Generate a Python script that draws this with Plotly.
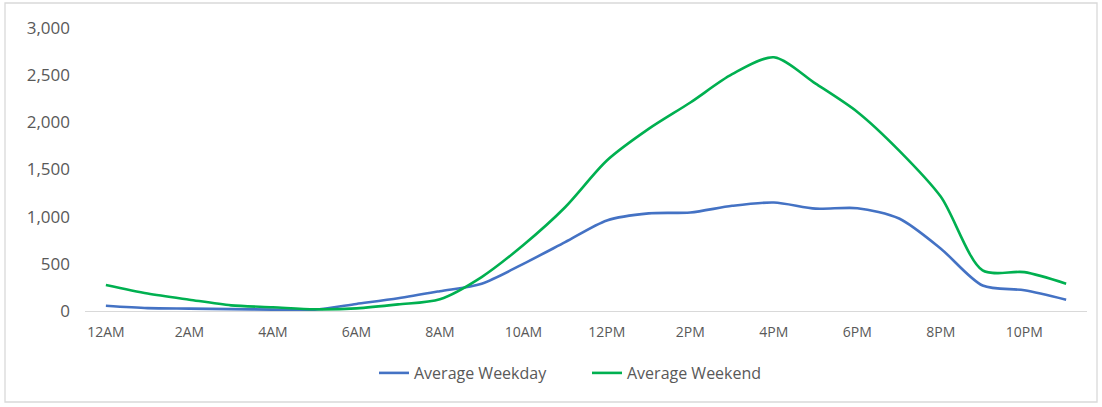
import plotly.graph_objects as go

hours = ["12AM", "1AM", "2AM", "3AM", "4AM", "5AM", "6AM", "7AM", "8AM", "9AM", "10AM", "11AM",
         "12PM", "1PM", "2PM", "3PM", "4PM", "5PM", "6PM", "7PM", "8PM", "9PM", "10PM", "11PM"]
tick_labels = hours[::2]

weekday = [55, 30, 25, 20, 15, 15, 75, 135, 210, 290, 500, 730,
           960, 1035, 1045, 1115, 1150, 1085, 1090, 980, 660, 270, 220, 120]
weekend = [275, 185, 120, 60, 40, 18, 28, 70, 125, 360, 700, 1100,
           1595, 1930, 2210, 2510, 2690, 2410, 2110, 1700, 1210, 430, 412, 290]

fig = go.Figure()
fig.add_trace(go.Scatter(x=hours, y=weekday, name="Average Weekday", mode="lines",
                         line=dict(color="#4472C4", width=2.6, shape="spline", smoothing=0.8)))
fig.add_trace(go.Scatter(x=hours, y=weekend, name="Average Weekend", mode="lines",
                         line=dict(color="#00B050", width=2.6, shape="spline", smoothing=0.8)))

L, R, T, B = 85, 15, 28, 96
W, H = 1102, 407
pw, ph = W - L - R, H - T - B

def px(x):
    return (x - L) / pw

def py(y):
    return (H - B - y) / ph

fig.update_layout(
    width=W, height=H,
    margin=dict(l=L, r=R, t=T, b=B),
    paper_bgcolor="white", plot_bgcolor="white",
    font=dict(family="Open Sans", color="#595959"),
    showlegend=True,
    legend=dict(orientation="h", x=px(374), xanchor="left", y=py(373), yanchor="middle",
                font=dict(size=16, color="#595959"), entrywidth=168, entrywidthmode="pixels",
                tracegroupgap=0),
    xaxis=dict(type="category", categoryorder="array", categoryarray=hours,
               range=[-0.5, 23.5], tickmode="array", tickvals=tick_labels, ticktext=tick_labels,
               showgrid=False, showline=True, linecolor="#D9D9D9", linewidth=1.3,
               ticks="", tickfont=dict(size=14, color="#595959"), ticklabelstandoff=8,
               zeroline=False, fixedrange=True),
    yaxis=dict(range=[0, 3000], tickvals=[0, 500, 1000, 1500, 2000, 2500, 3000],
               tickformat=",d", showgrid=False, showline=False, zeroline=False,
               ticks="", tickfont=dict(size=17, color="#595959"), ticklabelstandoff=14,
               fixedrange=True),
    shapes=[dict(type="rect", xref="paper", yref="paper",
                 x0=px(5), x1=px(1097), y0=py(402), y1=py(3),
                 line=dict(color="#D9D9D9", width=1.3), fillcolor="rgba(0,0,0,0)", layer="below")],
)

fig.write_html("out.html", config={"displayModeBar": False},
               post_script="document.body.style.margin='0';document.body.style.overflow='hidden';")
